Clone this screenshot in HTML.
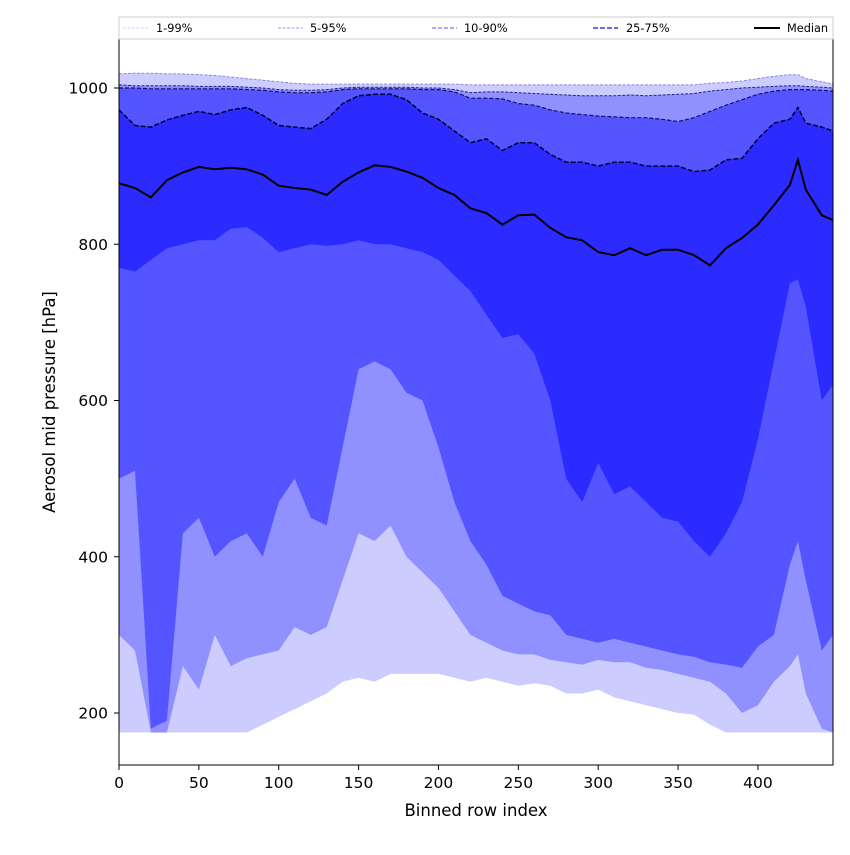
<!DOCTYPE html>
<html><head><meta charset="utf-8"><style>
body{margin:0;background:#fff;}
svg text{font-family:"DejaVu Sans","Liberation Sans",sans-serif;}
</style></head><body>
<svg id="chart" width="850" height="850" viewBox="0 0 850 850">
<rect width="850" height="850" fill="#fff"/>
<g id="bands"></g>
<g id="lines"></g>
<rect x="119" y="39" width="714" height="726" fill="none" stroke="#000" stroke-width="1"/>
<g id="xticks"></g>
<g id="yticks"></g>
<text x="476" y="816" font-size="16.5" text-anchor="middle">Binned row index</text>
<text transform="translate(55,402) rotate(-90)" font-size="16.5" text-anchor="middle">Aerosol mid pressure [hPa]</text>
<g>
<rect x="119" y="17" width="714" height="22" fill="#fff" stroke="#ccc"/>
<g><line x1="123" y1="28" x2="148" y2="28" stroke="#ccccff" stroke-dasharray="3,1.5"/><text x="156" y="32" font-size="11.3">1-99%</text></g>
<g><line x1="278" y1="28" x2="303" y2="28" stroke="#9999ff" stroke-dasharray="3,1.5"/><text x="310" y="32" font-size="11.3">5-95%</text></g>
<g><line x1="432" y1="28" x2="457" y2="28" stroke="#7777ff" stroke-width="1.3" stroke-dasharray="4,2"/><text x="464" y="32" font-size="11.3">10-90%</text></g>
<g><line x1="593" y1="28" x2="618" y2="28" stroke="#5555ff" stroke-width="1.8" stroke-dasharray="5,2"/><text x="626" y="32" font-size="11.3">25-75%</text></g>
<g><line x1="754" y1="28" x2="780" y2="28" stroke="#000" stroke-width="2"/><text x="787" y="32" font-size="11.3">Median</text></g>
</g>
</svg>
<script>
const xs   = [0,10,20,30,40,50,60,70,80,90,100,110,120,130,140,150,160,170,180,190,200,210,220,230,240,250,260,270,280,290,300,310,320,330,340,350,360,370,380,390,400,410,420,425,430,440,447];
const p99  = [1018,1019,1019,1018,1018,1017,1016,1014,1012,1010,1008,1006,1005,1005,1005,1005,1005,1005,1005,1005,1005,1005,1004,1004,1004,1004,1004,1004,1004,1004,1004,1004,1004,1004,1004,1004,1004,1006,1007,1009,1012,1015,1017,1017,1012,1008,1005];
const p95  = [1004,1003,1003,1003,1003,1002,1002,1002,1001,1000,998,997,997,998,1000,1001,1001,1001,1001,1000,1000,998,994,995,995,994,993,992,991,990,990,990,991,990,991,992,993,996,998,1000,1001,1002,1003,1003,1002,1001,1000];
const p90  = [1000,1000,999,999,999,999,999,999,998,997,995,994,994,995,998,999,999,999,999,998,998,995,987,987,986,980,978,972,968,966,964,963,962,962,960,957,962,970,978,985,992,996,998,998,998,997,996];
const p75  = [972,952,950,959,965,970,966,972,975,965,952,950,948,960,980,990,992,992,985,968,960,945,930,935,920,930,930,915,905,905,900,905,905,900,900,900,893,895,908,910,935,955,960,975,955,950,945];
const med  = [878,872,860,882,892,899,896,898,896,889,875,872,870,863,880,892,901,899,893,885,872,863,846,840,825,837,838,821,809,805,790,786,795,786,793,793,786,773,795,808,825,850,876,908,870,837,831];
const p25  = [770,765,780,795,800,805,805,820,822,808,790,795,800,798,800,805,800,800,795,790,780,760,740,710,680,685,660,600,500,470,520,480,490,470,450,445,420,400,430,470,550,650,750,755,720,600,620];
const p10  = [500,510,180,190,430,450,400,420,430,400,470,500,450,440,540,640,650,640,610,600,540,470,420,390,350,340,330,325,300,295,290,295,290,285,280,275,272,265,262,258,285,300,390,420,370,280,300];
const p5   = [300,280,175,175,260,230,300,260,270,275,280,310,300,310,370,430,420,440,400,380,360,330,300,290,280,275,275,268,265,262,268,265,265,258,255,250,245,240,225,200,210,240,260,275,225,180,175];
const p1   = [175,175,175,175,175,175,175,175,175,185,195,205,215,225,240,245,240,250,250,250,250,245,240,245,240,235,238,235,225,225,230,220,215,210,205,200,198,185,175,175,175,175,175,175,175,175,175];

const X = v => 119 + v*(714/447);
const Y = v => 88 + (1000 - v)*0.78125;
const NS = 'http://www.w3.org/2000/svg';
function pts(arr){ return xs.map((x,i)=>X(x).toFixed(1)+','+Y(arr[i]).toFixed(1)); }
function band(lo,hi,color,name){
  const p = document.createElementNS(NS,'polygon');
  p.setAttribute('points', pts(hi).concat(pts(lo).reverse()).join(' '));
  p.setAttribute('fill', color);
  
  
  document.getElementById('bands').appendChild(p);
}
band(p1,p99,'#ccccff','band-1-99');
band(p5,p95,'#9090ff','band-5-95');
band(p10,p90,'#5555ff','band-10-90');
band(p25,p75,'#2b2bff','band-25-75');
function line(arr,color,w,dash,name){
  const l = document.createElementNS(NS,'polyline');
  l.setAttribute('points', pts(arr).join(' '));
  l.setAttribute('fill','none');
  l.setAttribute('stroke',color);
  l.setAttribute('stroke-width',w);
  if(dash) l.setAttribute('stroke-dasharray',dash);
  
  
  document.getElementById('lines').appendChild(l);
}
line(p99,'#8888dd',1,'3,1.5','line-p99');
line(p95,'#222288',1,'3,1.5','line-p95');
line(p90,'#111166',1.2,'4,2','line-p90');
line(p75,'#000033',1.5,'5,2','line-p75');
line(med,'#000',2,null,'median-line');

const xTicks = [0,50,100,150,200,250,300,350,400];
const yTicks = [200,400,600,800,1000];
const xg = document.getElementById('xticks');
xTicks.forEach(t=>{
  const g = document.createElementNS(NS,'g');
  
  
  g.innerHTML = `<line x1="${X(t)}" y1="765" x2="${X(t)}" y2="770" stroke="#000"/><text x="${X(t)}" y="788" font-size="15.5" text-anchor="middle">${t}</text>`;
  xg.appendChild(g);
});
const yg = document.getElementById('yticks');
yTicks.forEach(t=>{
  const g = document.createElementNS(NS,'g');
  
  
  g.innerHTML = `<line x1="114" y1="${Y(t)}" x2="119" y2="${Y(t)}" stroke="#000"/><text x="108" y="${Y(t)+5.5}" font-size="15.5" text-anchor="end">${t}</text>`;
  yg.appendChild(g);
});
</script>
</body></html>
